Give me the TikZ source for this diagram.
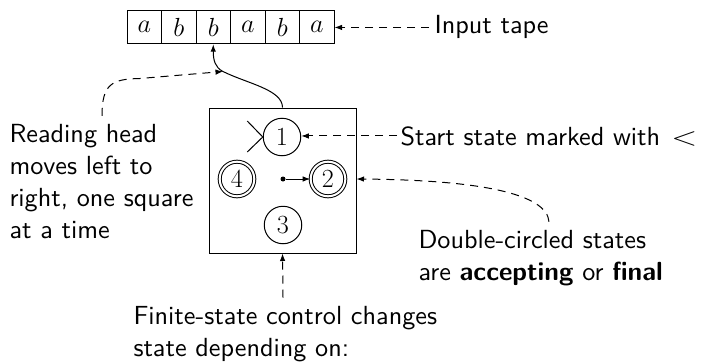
\RequirePackage{fix-cm}
\documentclass[tikz,border=0pt]{standalone}
\usepackage{graphicx}
\usepackage{fontspec}
\setsansfont{lmsans10-regular.otf}[BoldFont=lmsans10-bold.otf]
\usetikzlibrary{arrows.meta}

\begin{document}
\begin{tikzpicture}[x=1pt, y=-1pt, line width=1pt,
  every node/.style={font=\fontsize{26.2}{32}\selectfont},
  note/.style={font=\fontsize{26.2}{32}\selectfont\sffamily, inner sep=0pt, align=left},
  cell/.style={draw, minimum width=34.5pt, minimum height=33.5pt, inner sep=0pt},
  state/.style={draw, circle, minimum size=37.5pt, inner sep=0pt},
  accepting/.style={state, minimum size=34.6pt, double, double distance=2pt},
  tip/.style={-{Latex[length=7.5pt, width=5.5pt]}},
  pointer/.style={tip, dash pattern=on 8pt off 6pt},
]
\useasboundingbox (0,0) rectangle (703,361);

% input tape
\foreach \s [count=\i] in {a,b,b,a,b,a}
  \node[cell] (c\i) at ({127+34.5*(\i-0.5)},27) {$\s$};

% finite-state control
\node[draw, minimum width=147pt, minimum height=145pt, inner sep=0pt] (ctrl) at (282.5,180.5) {};
\node[state] (s1) at (282,137) {$1$};
\node[accepting] (s4) at (237,179) {$4$};
\node[accepting] (s2) at (328,179) {$2$};
\node[state] (s3) at (283,225) {$3$};

% start marker on state 1
\draw (s1.west) -- +(-15.5,-16) (s1.west) -- +(-15.5,15);

% current state pointer
\node[circle, fill, inner sep=0pt, minimum size=5pt] (cur) at (283,179) {};
\draw[tip] (cur) -- (s2);

% reading head
\coordinate (bend) at (223,71.5);
\draw[tip] (ctrl.north) .. controls +(0,-18) and (247,83.5) .. (bend)
  .. controls (215,67.5) and (213.25,60) .. (c3.south);

% annotations
\node[note, anchor=base west] (tapelbl) at (434,34) {Input tape};
\draw[pointer, shorten <=5pt] (tapelbl.west) -- (tapelbl.west -| c6.east);

\node[note, anchor=base west] (startlbl) at (400,145) {Start state marked with\hspace{0.43em}\scalebox{1.3}[1]{$<$}};
\draw[pointer, shorten <=3pt] (startlbl.west) -- (startlbl.west -| s1.east);

\node[note, anchor=north west] (readlbl) at (9,123.8) {Reading head\\moves left to\\right, one square\\at a time};
\draw[pointer] ([xshift=93pt, yshift=8pt]readlbl.north west)
  .. controls +(0,-32) and (112,79) .. (140,78.5) -- (bend);

\node[note, anchor=north west] (acclbl) at (418,229.8) {Double-circled states\\are \textbf{accepting} or \textbf{final}};
\draw[pointer] ([xshift=131pt, yshift=8pt]acclbl.north west)
  .. controls +(-2,-28) and (480,180) .. (ctrl.east |- s2);

\node[note, anchor=north west] (ctrllbl) at (133,305.5) {Finite-state control changes\\state depending on:};
\draw[pointer] ([xshift=150pt, yshift=8pt]ctrllbl.north west) -- (ctrl.south);
\end{tikzpicture}
\end{document}
